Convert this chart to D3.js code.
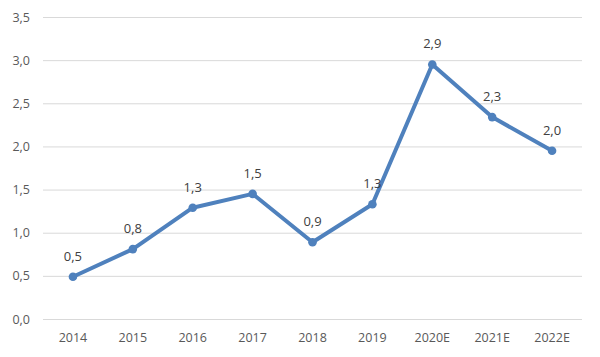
<!DOCTYPE html>
<html><head><meta charset="utf-8">
<script src="https://cdn.jsdelivr.net/npm/d3@7"></script>
<style>body{margin:0;background:#fff;} text{font-family:"Open Sans","Liberation Sans",sans-serif;}</style>
</head><body><svg id="c" width="600" height="357"></svg>
<script>
const categories = ["2014","2015","2016","2017","2018","2019","2020E","2021E","2022E"];
const values = [0.49,0.81,1.29,1.45,0.89,1.33,2.95,2.34,1.95];
const labels = ["0,5","0,8","1,3","1,5","0,9","1,3","2,9","2,3","2,0"];
const yTicks = [0,0.5,1,1.5,2,2.5,3,3.5];

const svg = d3.select("#c");
const x = d3.scaleBand().domain(categories).range([43,582]);
const y = d3.scaleLinear().domain([0,3.5]).range([319,17]);
const fmt = v => d3.format(".1f")(v).replace(".",",");

const gy = svg.append("g").attr("transform","translate(43,0)")
  .call(d3.axisLeft(y).tickValues(yTicks).tickFormat(fmt).tickSize(-539).tickPadding(13));
gy.select(".domain").remove();
gy.selectAll("line").attr("stroke","#d9d9d9").attr("stroke-width",1);
gy.selectAll("text").attr("fill","#595959").style("font-size","12.5px");

const gx = svg.append("g").attr("transform","translate(0,319)")
  .call(d3.axisBottom(x).tickSize(0).tickPadding(14));
gx.select(".domain").remove();
gx.selectAll("text").attr("fill","#595959").style("font-size","12.5px");

const cx = d => x(d) + x.bandwidth()/2;
svg.append("path").datum(values)
  .attr("fill","none").attr("stroke","#4f81bd").attr("stroke-width",4).attr("stroke-linejoin","round")
  .attr("d", d3.line().x((d,i)=>cx(categories[i])).y(d=>y(d)));
svg.selectAll("circle.pt").data(values).join("circle")
  .attr("cx",(d,i)=>cx(categories[i])).attr("cy",d=>y(d)).attr("r",4.3).attr("fill","#4f81bd");
svg.selectAll("text.lbl").data(values).join("text").attr("class","lbl")
  .attr("x",(d,i)=>cx(categories[i])).attr("y",d=>y(d)-16)
  .attr("text-anchor","middle").attr("fill","#404040").style("font-size","13px")
  .text((d,i)=>labels[i]);
</script></body></html>
